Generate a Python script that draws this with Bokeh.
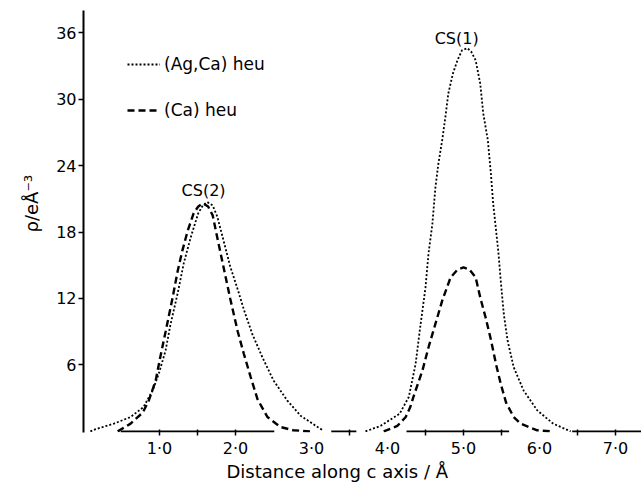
from bokeh.plotting import figure
from bokeh.models import Range1d, FixedTicker, Legend, LegendItem, Label, Title
from bokeh.embed import file_html
from bokeh.resources import INLINE

FONT = "DejaVu Sans"

# ---- data ----
# (Ag,Ca) heu, dotted, CS(2) peak
agca_cs2_x = [0.09, 0.16, 0.40, 0.62, 0.79, 0.91, 0.99, 1.08, 1.14, 1.24, 1.32, 1.41, 1.51,
              1.57, 1.63, 1.70, 1.76, 1.84, 1.93, 2.03, 2.11, 2.22, 2.36, 2.50, 2.68, 2.86,
              3.08, 3.15]
agca_cs2_y = [0.0, 0.2, 0.7, 1.3, 2.2, 3.7, 5.2, 7.3, 9.5, 12.5, 15.2, 17.5, 19.7,
              20.4, 20.7, 20.4, 19.4, 17.3, 14.9, 12.8, 11.0, 8.8, 6.6, 4.6, 2.8, 1.4,
              0.4, 0.1]
# (Ca) heu, dashed, CS(2) peak
ca_cs2_x = [0.45, 0.62, 0.78, 0.86, 0.95, 1.01, 1.08, 1.17, 1.24, 1.30, 1.37, 1.45, 1.51,
            1.57, 1.64, 1.70, 1.76, 1.84, 1.93, 2.03, 2.11, 2.20, 2.29, 2.42, 2.59, 2.76,
            2.98]
ca_cs2_y = [0.0, 0.7, 1.7, 2.8, 4.6, 6.7, 9.0, 12.0, 14.5, 16.3, 18.1, 19.7, 20.3,
            20.6, 20.3, 19.5, 17.5, 14.9, 12.0, 9.0, 7.0, 4.9, 2.9, 1.3, 0.4, 0.1,
            0.0]
# (Ag,Ca) heu, dotted, CS(1) peak
agca_cs1_x = [3.71, 3.91, 4.16, 4.28, 4.37, 4.43, 4.50, 4.54, 4.59, 4.63, 4.67, 4.72, 4.76,
              4.80, 4.86, 4.92, 4.98, 5.05, 5.10, 5.16, 5.22, 5.26, 5.32, 5.36, 5.39, 5.42,
              5.46, 5.49, 5.53, 5.58, 5.66, 5.79, 5.97, 6.18, 6.41]
agca_cs1_y = [0.0, 0.5, 1.6, 3.1, 6.1, 9.4, 13.0, 16.1, 18.7, 22.0, 24.2, 26.3, 28.3,
              30.5, 32.3, 33.5, 34.4, 34.6, 34.3, 33.5, 31.4, 28.7, 26.3, 23.3, 20.6, 18.7,
              16.1, 13.6, 10.6, 8.2, 5.8, 3.7, 1.9, 0.7, 0.0]
# (Ca) heu, dashed, CS(1) peak
ca_cs1_x = [3.95, 4.13, 4.24, 4.30, 4.34, 4.46, 4.54, 4.63, 4.72, 4.83, 4.92, 5.00, 5.08,
            5.16, 5.22, 5.29, 5.36, 5.43, 5.49, 5.56, 5.66, 5.75, 5.97, 6.15]
ca_cs1_y = [0.0, 0.5, 1.3, 2.2, 3.1, 5.5, 7.6, 9.7, 11.8, 13.9, 14.6, 14.8, 14.6,
            13.9, 12.1, 10.3, 8.3, 6.0, 4.3, 2.6, 1.3, 0.7, 0.1, 0.0]

series_names = ["(Ag,Ca) heu", "(Ca) heu"]
peak_names = ["CS(2)", "CS(1)"]
peak_label_x = [1.58, 4.91]
peak_label_y = [21.75, 35.5]

x_tick_values = [1, 2, 3, 4, 5, 6, 7]
x_tick_labels = ["1·0", "2·0", "3·0", "4·0", "5·0", "6·0", "7·0"]
x_minor_ticks = [1.0, 1.5, 2.0, 3.5, 4.5, 5.0, 5.5, 6.5, 7.0]
y_tick_values = [6, 12, 18, 24, 30, 36]

# broken x-axis baseline pieces
axis_seg_start = [0.49, 3.26, 4.25, 6.43]
axis_seg_end = [2.51, 3.59, 5.60, 7.40]

x_title = "Distance along c axis / Å"
y_title = "ρ/eÅ⁻³"

# ---- figure ----
p = figure(width=641, height=482, output_backend="svg", toolbar_location=None,
           x_range=Range1d(0, 7.342), y_range=Range1d(-0.1, 38.0),
           min_border=0, min_border_left=83, min_border_top=10,
           min_border_bottom=50, min_border_right=0)
p.grid.visible = False
p.outline_line_color = None
p.background_fill_color = "white"
p.border_fill_color = "white"

# x axis
xa = p.xaxis[0]
xa.ticker = FixedTicker(ticks=x_tick_values, minor_ticks=x_minor_ticks)
xa.major_label_overrides = {v: s for v, s in zip(x_tick_values, x_tick_labels)}
xa.axis_line_color = None
xa.major_tick_in = 0
xa.major_tick_out = 0
xa.minor_tick_in = 3
xa.minor_tick_out = 3
xa.minor_tick_line_width = 1.5
xa.minor_tick_line_color = "black"
xa.major_label_text_font = FONT
xa.major_label_text_font_size = "16px"
xa.major_label_text_color = "black"
xa.major_label_standoff = 3

# y axis
ya = p.yaxis[0]
ya.ticker = FixedTicker(ticks=y_tick_values)
ya.axis_line_width = 2
ya.axis_line_color = "black"
ya.major_tick_in = 0
ya.major_tick_out = 5
ya.major_tick_line_width = 1.5
ya.minor_tick_in = 0
ya.minor_tick_out = 0
ya.major_label_text_font = FONT
ya.major_label_text_font_size = "16px"
ya.major_label_text_color = "black"
ya.major_label_standoff = 2

# axis titles as side titles (offset lets them sit where the reference has them)
p.add_layout(Title(text=x_title, align="left", offset=143, vertical_align="bottom",
                   standoff=-4, text_font=FONT, text_font_size="18px",
                   text_font_style="normal", text_color="black"), "below")
p.add_layout(Title(text=y_title, align="left", offset=200, vertical_align="top",
                   standoff=20, text_font=FONT, text_font_size="18px",
                   text_font_style="normal", text_color="black"), "left")

# broken baseline
p.segment(x0=axis_seg_start, y0=[0] * len(axis_seg_start),
          x1=axis_seg_end, y1=[0] * len(axis_seg_end),
          line_color="black", line_width=2)

# curves
dot_kw = dict(line_color="black", line_width=1.8, line_dash="2 2")
dash_kw = dict(line_color="black", line_width=2.4, line_dash="7 4")
r_agca2 = p.line(agca_cs2_x, agca_cs2_y, **dot_kw)
r_agca1 = p.line(agca_cs1_x, agca_cs1_y, **dot_kw)
r_ca2 = p.line(ca_cs2_x, ca_cs2_y, **dash_kw)
r_ca1 = p.line(ca_cs1_x, ca_cs1_y, **dash_kw)

legend = Legend(items=[LegendItem(label=series_names[0], renderers=[r_agca2]),
                       LegendItem(label=series_names[1], renderers=[r_ca2])],
                location="top_left", margin=44, padding=0, spacing=26,
                glyph_width=33, glyph_height=20, label_height=20, label_standoff=4,
                label_text_font=FONT, label_text_font_size="17px",
                label_text_color="black",
                border_line_color=None, background_fill_alpha=0)
p.add_layout(legend)

for name, lx, ly in zip(peak_names, peak_label_x, peak_label_y):
    p.add_layout(Label(x=lx, y=ly, text=name, text_align="center", text_baseline="middle",
                       text_font=FONT, text_font_size="16px", text_color="black"))

open("out.html", "w").write(file_html(p, INLINE))
